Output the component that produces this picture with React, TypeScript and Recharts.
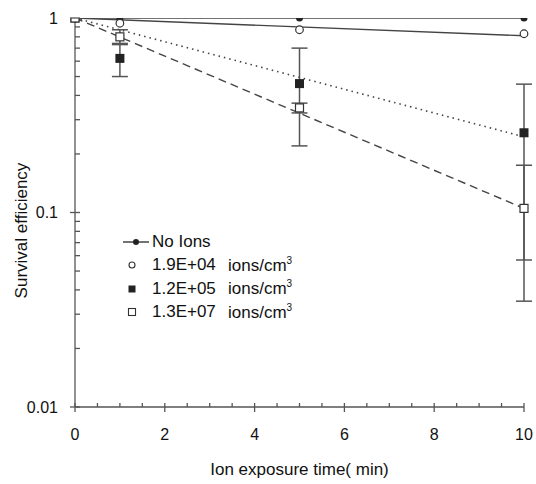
import { LineChart, Line, XAxis, YAxis, ErrorBar, Legend } from 'recharts';

// exposure times (min) where survival was measured
const times = [0, 1, 5, 10];

// survival efficiency
const noIons = [1, 1, 1, 1];
const dose19e4 = [1, 0.94, 0.87, 0.83];
const dose12e5 = [1, 0.62, 0.46, 0.257];
const dose12e5Err = [0, 0.12, 0.24, 0.2];
const dose13e7 = [1, 0.8, 0.345, 0.105];
const dose13e7Err = [0, 0.07, 0.02, 0.07];

// exponential trend lines (start / end values)
const trendTimes = [0, 10];
const trend19e4 = [1, 0.81];
const trend12e5 = [1, 0.245];
const trend13e7 = [1, 0.105];

const xTicks = [0, 0.5, 1, 1.5, 2, 2.5, 3, 3.5, 4, 4.5, 5, 5.5, 6, 6.5, 7, 7.5, 8, 8.5, 9, 9.5, 10];
const xLabels = [0, 2, 4, 6, 8, 10];
const yTicks = [
  0.01, 0.02, 0.03, 0.04, 0.05, 0.06, 0.07, 0.08, 0.09,
  0.1, 0.2, 0.3, 0.4, 0.5, 0.6, 0.7, 0.8, 0.9, 1,
];
const yLabels = [0.01, 0.1, 1];

const allTimes = [0, 1, 5, 10];
const data = allTimes.map((t) => {
  const i = times.indexOf(t);
  const j = trendTimes.indexOf(t);
  return {
    t,
    noIons: i >= 0 ? noIons[i] : null,
    d1: i >= 0 ? dose19e4[i] : null,
    d2: i >= 0 ? dose12e5[i] : null,
    d2err: i >= 0 ? dose12e5Err[i] : 0,
    d3: i >= 0 ? dose13e7[i] : null,
    d3err: i >= 0 ? dose13e7Err[i] : 0,
    tr1: j >= 0 ? trend19e4[j] : null,
    tr2: j >= 0 ? trend12e5[j] : null,
    tr3: j >= 0 ? trend13e7[j] : null,
  };
});

const FONT = '"Liberation Sans", Arial, sans-serif';
const AXIS = '#555';
const LINE = '#444';
const INK = '#111';

const XTick = (props: any) => {
  const { x, y, payload } = props;
  const major = xLabels.includes(payload.value);
  return (
    <g>
      <line x1={x} x2={x} y1={y - 4} y2={major ? y + 5 : y} stroke={AXIS} strokeWidth={1.3} />
      {major && (
        <text x={x} y={y + 27} textAnchor="middle" dominantBaseline="central" fontSize={16} fill={INK} fontFamily={FONT}>
          {payload.value}
        </text>
      )}
    </g>
  );
};

const YTick = (props: any) => {
  const { x, y, payload } = props;
  const major = yLabels.includes(payload.value);
  return (
    <g>
      <line x1={major ? x - 5 : x} x2={x + 5} y1={y} y2={y} stroke={AXIS} strokeWidth={1.3} />
      {major && (
        <text x={x - 17} y={y} textAnchor="end" dominantBaseline="central" fontSize={16} fill={INK} fontFamily={FONT}>
          {payload.value}
        </text>
      )}
    </g>
  );
};

const filledCircle = (p: any) =>
  p.cy == null ? <g key={p.index} /> : <circle key={p.index} cx={p.cx} cy={p.cy} r={3.5} fill="#222" />;
const openCircle = (p: any) =>
  p.cy == null ? <g key={p.index} /> : <circle key={p.index} cx={p.cx} cy={p.cy} r={3.8} fill="#fff" stroke="#333" strokeWidth={1.2} />;
const filledSquare = (p: any) =>
  p.cy == null ? <g key={p.index} /> : <rect key={p.index} x={p.cx - 4.5} y={p.cy - 4.5} width={9} height={9} fill="#222" />;
const openSquare = (p: any) =>
  p.cy == null ? <g key={p.index} /> : <rect key={p.index} x={p.cx - 4} y={p.cy - 4} width={8} height={8} fill="#fff" stroke="#333" strokeWidth={1.2} />;

const legendRows = [
  { kind: 'line', label: 'No Ions', unit: false },
  { kind: 'openCircle', label: '1.9E+04', unit: true },
  { kind: 'filledSquare', label: '1.2E+05', unit: true },
  { kind: 'openSquare', label: '1.3E+07', unit: true },
];

const LegendSymbol = ({ kind }: { kind: string }) => (
  <svg width={34} height={14} style={{ display: 'block' }}>
    {kind === 'line' && (
      <>
        <line x1={5} x2={31} y1={7} y2={7} stroke={LINE} strokeWidth={1.5} />
        <circle cx={18} cy={7} r={3} fill="#222" />
      </>
    )}
    {kind === 'openCircle' && <circle cx={14} cy={7} r={3} fill="#fff" stroke="#333" strokeWidth={1.1} />}
    {kind === 'filledSquare' && <rect x={10.5} y={3.5} width={7} height={7} fill="#222" />}
    {kind === 'openSquare' && <rect x={10.5} y={3.5} width={7} height={7} fill="#fff" stroke="#333" strokeWidth={1.1} />}
  </svg>
);

const LegendContent = () => (
  <div style={{ fontFamily: FONT, fontSize: 17, color: INK }}>
    {legendRows.map((r) => (
      <div key={r.label} style={{ display: 'flex', alignItems: 'center', height: 23.5, whiteSpace: 'nowrap' }}>
        <LegendSymbol kind={r.kind} />
        <span style={{ width: 76 }}>{r.label}</span>
        {r.unit && (
          <span>
            ions/cm<sup style={{ fontSize: 10 }}>3</sup>
          </span>
        )}
      </div>
    ))}
  </div>
);

export default function App() {
  return (
    <div style={{ position: 'absolute', left: 0, top: 0, width: 536, height: 484, background: '#fff' }}>
      <LineChart width={536} height={484} data={data} margin={{ top: 18, right: 12, bottom: 0, left: 0 }}>
        <XAxis
          dataKey="t"
          type="number"
          domain={[0, 10]}
          ticks={xTicks}
          interval={0}
          tickSize={0}
          tickMargin={0}
          height={77}
          stroke={AXIS}
          strokeWidth={1.3}
          tick={<XTick />}
          label={{
            value: 'Ion exposure time( min)',
            position: 'insideBottom',
            offset: 9,
            fontSize: 17,
            fill: INK,
            fontFamily: FONT,
          }}
        />
        <YAxis
          scale="log"
          domain={[0.01, 1]}
          allowDataOverflow
          ticks={yTicks}
          interval={0}
          tickSize={0}
          tickMargin={0}
          width={75}
          stroke={AXIS}
          strokeWidth={1.3}
          tick={<YTick />}
          label={{
            content: (p: any) => {
              const vb = p.viewBox;
              const cx = vb.x + 21;
              const cy = vb.y + vb.height / 2 + 18;
              return (
                <text
                  x={cx}
                  y={cy}
                  transform={`rotate(-90 ${cx} ${cy})`}
                  textAnchor="middle"
                  dominantBaseline="central"
                  fontSize={17}
                  fill={INK}
                  fontFamily={FONT}
                >
                  Survival efficiency
                </text>
              );
            },
          }}
        />
        <Legend
          layout="vertical"
          align="center"
          verticalAlign="middle"
          content={<LegendContent />}
          wrapperStyle={{ position: 'absolute', left: 118, top: 230, width: 'auto' }}
        />
        <Line dataKey="tr1" stroke={LINE} strokeWidth={1.4} dot={false} connectNulls isAnimationActive={false} legendType="none" />
        <Line dataKey="tr2" stroke={LINE} strokeWidth={1.6} strokeDasharray="1.5 4" dot={false} connectNulls isAnimationActive={false} legendType="none" />
        <Line dataKey="tr3" stroke={LINE} strokeWidth={1.4} strokeDasharray="8 5" dot={false} connectNulls isAnimationActive={false} legendType="none" />
        <Line dataKey="noIons" stroke={LINE} strokeWidth={1.6} dot={filledCircle} isAnimationActive={false} legendType="none" />
        <Line dataKey="d1" stroke="none" dot={openCircle} isAnimationActive={false} legendType="none" />
        <Line dataKey="d2" stroke="none" dot={filledSquare} isAnimationActive={false} legendType="none">
          <ErrorBar dataKey="d2err" direction="y" width={8} stroke={AXIS} strokeWidth={1.5} />
        </Line>
        <Line dataKey="d3" stroke="none" dot={openSquare} isAnimationActive={false} legendType="none">
          <ErrorBar dataKey="d3err" direction="y" width={8} stroke={AXIS} strokeWidth={1.5} />
        </Line>
      </LineChart>
    </div>
  );
}
